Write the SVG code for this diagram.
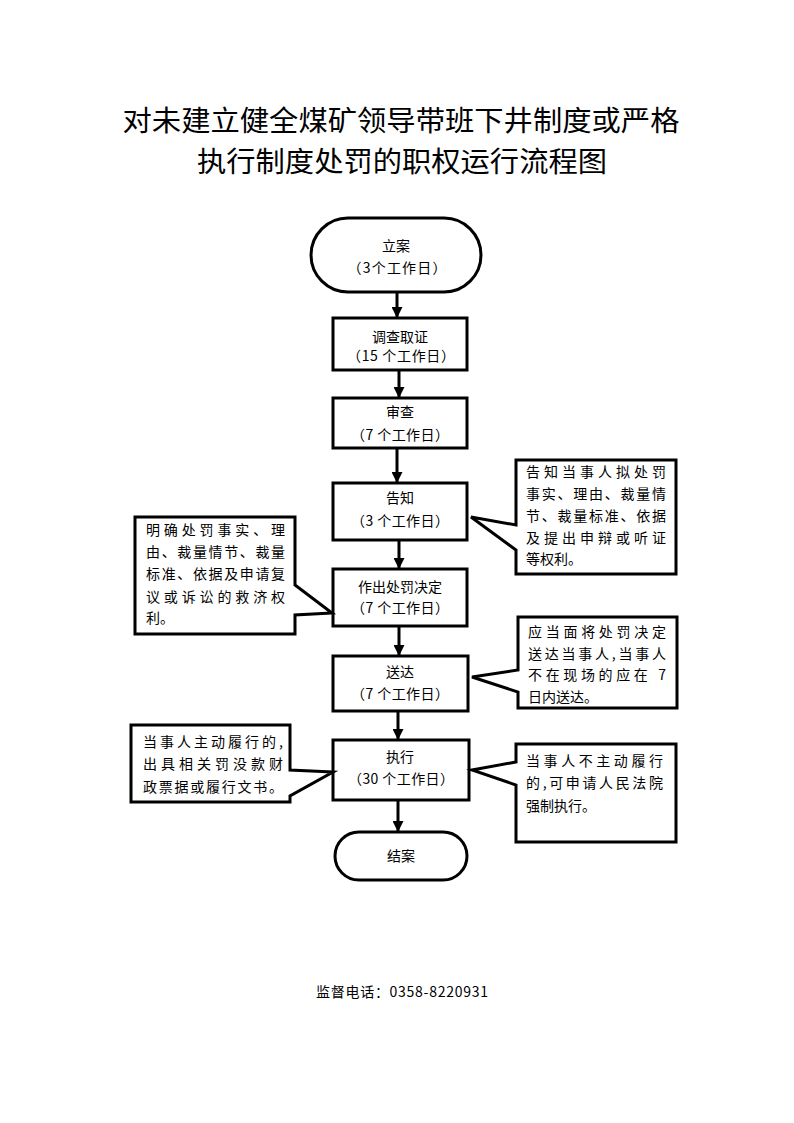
<svg xmlns="http://www.w3.org/2000/svg" width="794" height="1123" viewBox="0 0 794 1123">
<defs>
<marker id="ah" markerWidth="11" markerHeight="11" refX="10" refY="5.5" orient="auto" markerUnits="userSpaceOnUse" viewBox="0 0 11 11">
<path d="M0,0 L11,5.5 L0,11 Z" fill="#000"/>
</marker>
</defs>
<style>
.shape{fill:#fff;stroke:#000;stroke-width:3;stroke-linejoin:miter}
.t{font-family:"Noto Sans CJK SC","Liberation Sans",sans-serif;font-size:14px;fill:#000}
.c{text-anchor:middle}
.title{font-family:"Noto Sans CJK SC","Liberation Sans",sans-serif;font-size:28px;fill:#000;text-anchor:middle}
.conn{stroke:#000;stroke-width:3;fill:none}
</style>
<rect width="794" height="1123" fill="#fff"/>
<g id="title">
<text class="title" x="401" y="131" textLength="557" lengthAdjust="spacingAndGlyphs">对未建立健全煤矿领导带班下井制度或严格</text>
<text class="title" x="402" y="172" textLength="410" lengthAdjust="spacingAndGlyphs">执行制度处罚的职权运行流程图</text>
</g>
<g id="connectors">
<line class="conn" x1="397" y1="292" x2="397" y2="317" marker-end="url(#ah)"/>
<line class="conn" x1="399" y1="370" x2="399" y2="397" marker-end="url(#ah)"/>
<line class="conn" x1="397" y1="448" x2="397" y2="482" marker-end="url(#ah)"/>
<line class="conn" x1="399" y1="540" x2="399" y2="568" marker-end="url(#ah)"/>
<line class="conn" x1="399" y1="626" x2="399" y2="655" marker-end="url(#ah)"/>
<line class="conn" x1="398" y1="711" x2="398" y2="739" marker-end="url(#ah)"/>
<line class="conn" x1="398" y1="800" x2="398" y2="831" marker-end="url(#ah)"/>
</g>
<g id="n-lian">
<rect class="shape" x="311" y="218" width="170" height="74" rx="37" ry="37"/>
<text class="t c" x="396" y="251">立案</text>
<text class="t c" x="397" y="273" textLength="99" lengthAdjust="spacing">（3个工作日）</text>
</g>
<g id="n-diaocha">
<rect class="shape" x="333" y="318" width="134" height="52"/>
<text class="t c" x="400" y="342">调查取证</text>
<text class="t c" x="401" y="361" textLength="108" lengthAdjust="spacing">（15 个工作日）</text>
</g>
<g id="n-shencha">
<rect class="shape" x="333" y="398" width="134" height="50"/>
<text class="t c" x="400" y="417">审查</text>
<text class="t c" x="400" y="440" textLength="98" lengthAdjust="spacing">（7 个工作日）</text>
</g>
<g id="n-gaozhi">
<rect class="shape" x="333" y="483" width="134" height="57"/>
<text class="t c" x="400" y="503">告知</text>
<text class="t c" x="400" y="526" textLength="98" lengthAdjust="spacing">（3 个工作日）</text>
</g>
<g id="n-zuochu">
<rect class="shape" x="333" y="569" width="134" height="57"/>
<text class="t c" x="400" y="592">作出处罚决定</text>
<text class="t c" x="400" y="613" textLength="98" lengthAdjust="spacing">（7 个工作日）</text>
</g>
<g id="n-songda">
<rect class="shape" x="333" y="656" width="135" height="55"/>
<text class="t c" x="400" y="677">送达</text>
<text class="t c" x="400" y="699" textLength="98" lengthAdjust="spacing">（7 个工作日）</text>
</g>
<g id="n-zhixing">
<rect class="shape" x="333" y="740" width="136" height="60"/>
<text class="t c" x="400" y="762">执行</text>
<text class="t c" x="401" y="784" textLength="106" lengthAdjust="spacing">（30 个工作日）</text>
</g>
<g id="n-jiean">
<rect class="shape" x="335" y="832" width="132" height="48" rx="24" ry="24"/>
<text class="t c" x="401" y="861">结案</text>
</g>
<g id="note-gaozhi">
<path class="shape" d="M516,460 H676 V574 H516 V550 L471,517 L516,525 Z"/>
<text class="t" x="526" y="477" textLength="140" lengthAdjust="spacing">告知当事人拟处罚</text>
<text class="t" x="526" y="499" textLength="140" lengthAdjust="spacing">事实、理由、裁量情</text>
<text class="t" x="526" y="521" textLength="140" lengthAdjust="spacing">节、裁量标准、依据</text>
<text class="t" x="526" y="543" textLength="140" lengthAdjust="spacing">及提出申辩或听证</text>
<text class="t" x="526" y="564">等权利。</text>
</g>
<g id="note-zuochu">
<path class="shape" d="M135,517 H295 V585 L332,613 L295,615 V634 H135 Z"/>
<text class="t" x="146" y="535" textLength="139" lengthAdjust="spacing">明确处罚事实、理</text>
<text class="t" x="146" y="557" textLength="139" lengthAdjust="spacing">由、裁量情节、裁量</text>
<text class="t" x="146" y="579" textLength="139" lengthAdjust="spacing">标准、依据及申请复</text>
<text class="t" x="146" y="602" textLength="139" lengthAdjust="spacing">议或诉讼的救济权</text>
<text class="t" x="146" y="623">利。</text>
</g>
<g id="note-songda">
<path class="shape" d="M518,617 H677 V708 H518 V692 L472,677 L518,670 Z"/>
<text class="t" x="528" y="637" textLength="138" lengthAdjust="spacing">应当面将处罚决定</text>
<text class="t" x="528" y="659" textLength="138" lengthAdjust="spacing">送达当事人,当事人</text>
<text class="t" x="528" y="680" textLength="138" lengthAdjust="spacing">不在现场的应在 7</text>
<text class="t" x="528" y="702">日内送达。</text>
</g>
<g id="note-zhixing-left">
<path class="shape" d="M131,725 H290 V770 L333,772 L290,796 V802 H131 Z"/>
<text class="t" x="143" y="747" textLength="140" lengthAdjust="spacing">当事人主动履行的,</text>
<text class="t" x="143" y="769" textLength="140" lengthAdjust="spacing">出具相关罚没款财</text>
<text class="t" x="143" y="792" textLength="140" lengthAdjust="spacing">政票据或履行文书。</text>
</g>
<g id="note-zhixing-right">
<path class="shape" d="M516,744 H676 V842 H516 V785 L472,770 L516,762 Z"/>
<text class="t" x="526" y="766" textLength="137" lengthAdjust="spacing">当事人不主动履行</text>
<text class="t" x="526" y="788" textLength="137" lengthAdjust="spacing">的,可申请人民法院</text>
<text class="t" x="526" y="811">强制执行。</text>
</g>
<g id="footer">
<text class="t" x="316" y="997" textLength="172" lengthAdjust="spacing">监督电话：0358-8220931</text>
</g>
</svg>
